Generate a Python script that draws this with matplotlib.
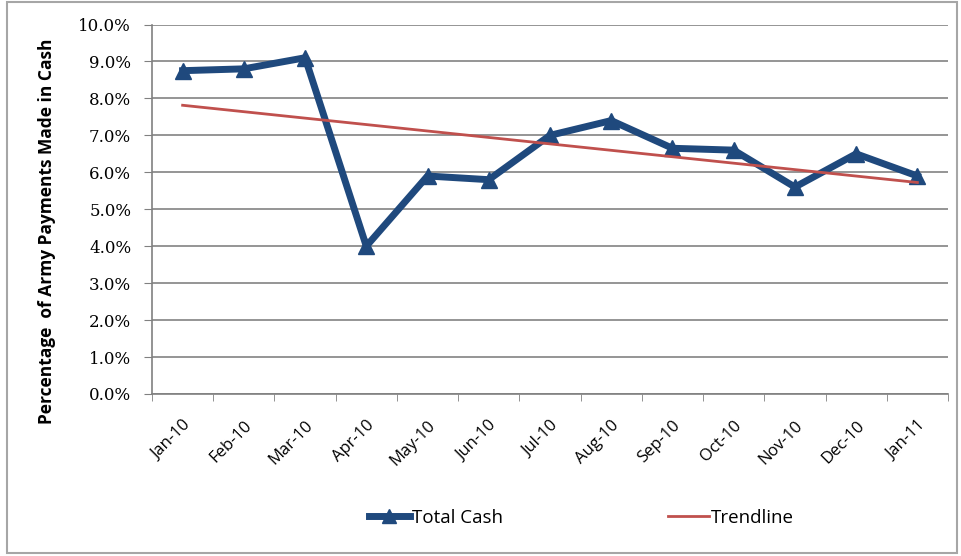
import numpy as np
import matplotlib.pyplot as plt
from matplotlib.patches import Rectangle
from matplotlib.ticker import PercentFormatter

months = ["Jan-10", "Feb-10", "Mar-10", "Apr-10", "May-10", "Jun-10", "Jul-10",
          "Aug-10", "Sep-10", "Oct-10", "Nov-10", "Dec-10", "Jan-11"]
total_cash = [8.75, 8.8, 9.1, 4.0, 5.9, 5.8, 7.0, 7.4, 6.65, 6.6, 5.6, 6.5, 5.9]

x = np.arange(len(months))
# linear trendline, like the spreadsheet one
slope, icpt = np.polyfit(x, total_cash, 1)
trend = slope * x + icpt

fig = plt.figure(figsize=(9.61, 5.56), dpi=100)
ax = fig.add_axes([152 / 961, 1 - 394 / 556, 796 / 961, 369.5 / 556])

ax.plot(x, total_cash, color="#1F497D", lw=5, marker="^", ms=12,
        label="Total Cash", zorder=3)
ax.plot(x, trend, color="#C0504D", lw=2, label="Trendline", zorder=4)

ax.set_xlim(-0.5, len(months) - 0.5)
ax.set_ylim(0, 10)
ax.set_yticks(np.arange(0, 10.1, 1))
ax.yaxis.set_major_formatter(PercentFormatter(decimals=1))
ax.set_xticks(x)
ax.set_xticklabels(months, rotation=45, ha="right", rotation_mode="anchor",
                   fontfamily="Open Sans", fontsize=12)
ax.set_xticks(np.arange(-0.5, len(months), 1), minor=True)
ax.tick_params(axis="x", which="major", length=0, pad=17)
ax.tick_params(axis="x", which="minor", length=5, color="#808080", direction="out")
ax.tick_params(axis="y", length=6, color="#808080", pad=9)
for lb in ax.get_yticklabels():
    lb.set_fontfamily("DejaVu Serif")
    lb.set_fontsize(12)

ax.grid(axis="y", color="#8c8c8c", lw=1.3)
ax.set_axisbelow(True)
for s in ["top", "right"]:
    ax.spines[s].set_visible(False)
for s in ["left", "bottom"]:
    ax.spines[s].set_color("#808080")
    ax.spines[s].set_linewidth(1.2)

ax.set_ylabel("Percentage  of Army Payments Made in Cash", fontfamily="Open Sans",
              fontweight="bold", fontsize=12.5)
ax.yaxis.set_label_coords(-0.12, 0.44)

fig.legend(loc="center", bbox_to_anchor=(0.605, 1 - 518 / 556), ncol=2, frameon=False,
           prop={"family": "Open Sans", "size": 13.5}, handlelength=2.2,
           handletextpad=0.1, columnspacing=8.8, markerscale=0.8)

fig.patches.append(Rectangle((7 / 961, 3 / 556), 950 / 961, 551 / 556, transform=fig.transFigure,
                             fill=False, edgecolor="#a6a6a6", lw=1.5))

fig.savefig("out.png", dpi=100)
